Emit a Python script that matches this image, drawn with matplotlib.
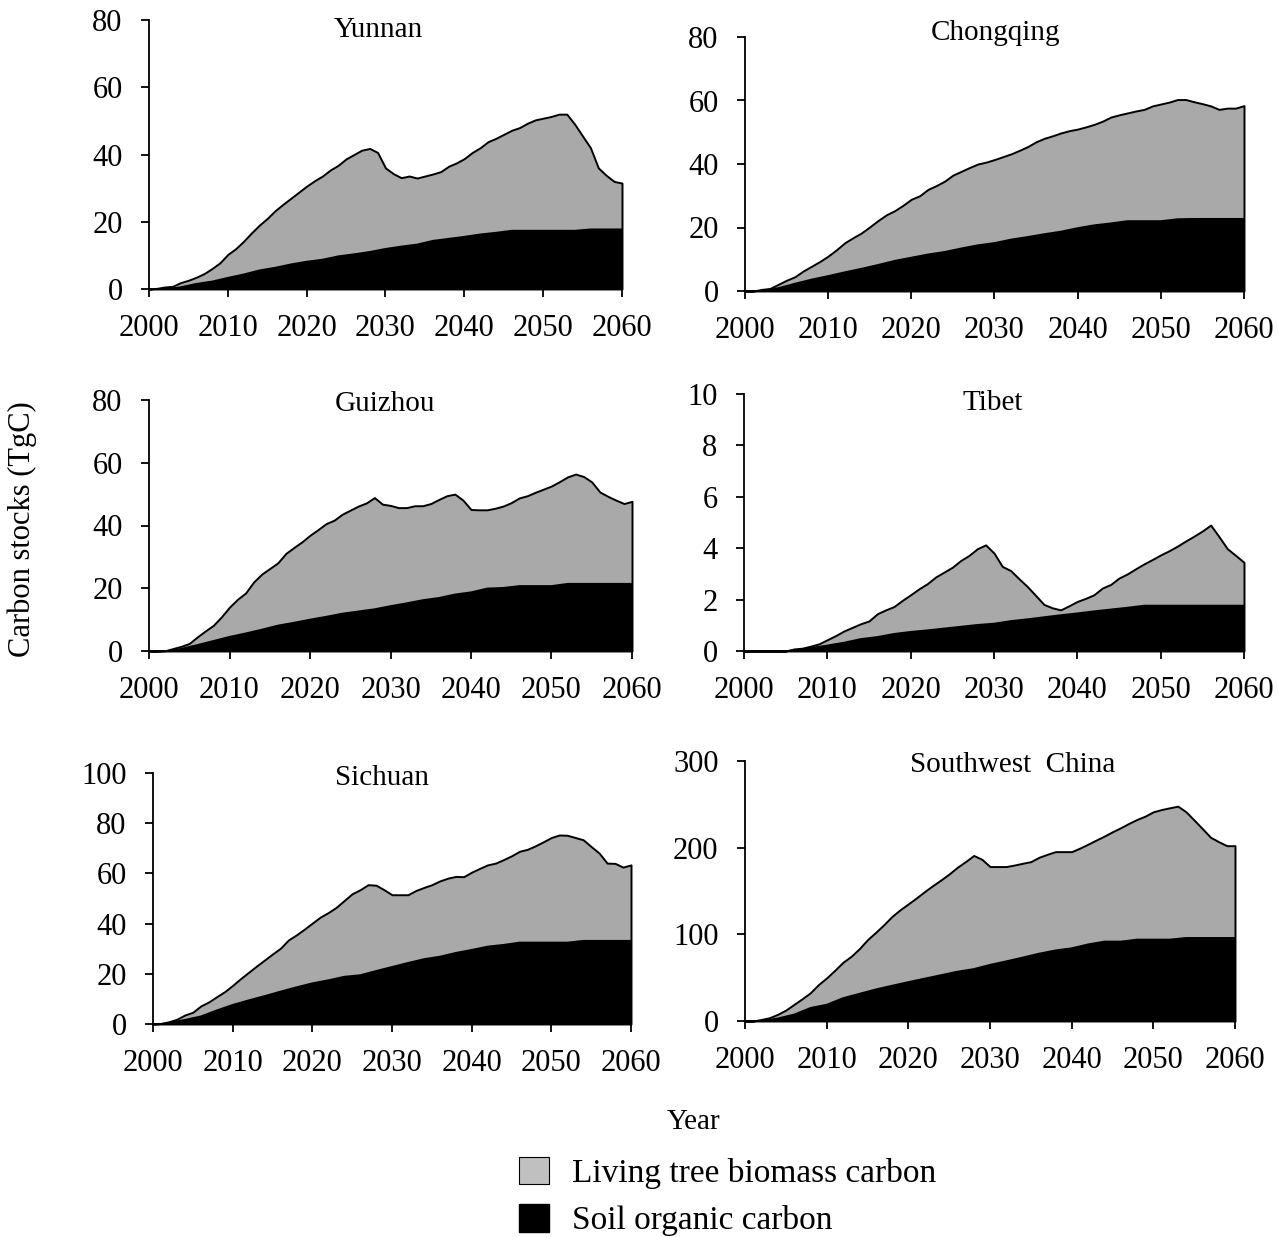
import numpy as np
import matplotlib.pyplot as plt
from matplotlib.patches import Patch

plt.rcParams['font.family'] = ['Liberation Serif', 'DejaVu Serif']

# years of the simulation
years = np.arange(2000, 2061)
soil_years = np.arange(2000, 2061, 2)

# total carbon stock (biomass + soil), TgC, one value per year
yunnan_total = [0, 0.2, 0.6, 0.8, 1.9, 2.6, 3.5, 4.6, 6.1, 7.8,
                10.3, 12.0, 14.2, 16.7, 19.0, 21.0, 23.3, 25.2, 27.0, 28.8,
                30.6, 32.2, 33.6, 35.4, 36.8, 38.7, 40.0, 41.3, 41.8, 40.6,
                36.0, 34.3, 33.1, 33.6, 33.0, 33.6, 34.2, 34.9, 36.5, 37.5,
                38.8, 40.6, 42.0, 43.8, 44.8, 46.0, 47.2, 48.0, 49.3, 50.3,
                50.8, 51.3, 52.0, 52.0, 49.0, 45.5, 42.0, 36.0, 33.8, 32.0,
                31.5]
chongqing_total = [0, 0, 0.5, 0.8, 2.1, 3.4, 4.5, 6.3, 7.8, 9.3,
                   11.0, 13.0, 15.2, 16.8, 18.3, 20.2, 22.2, 24.0, 25.3, 27.0,
                   28.9, 30.0, 32.0, 33.2, 34.6, 36.5, 37.7, 38.9, 40.0, 40.6,
                   41.4, 42.3, 43.2, 44.3, 45.5, 47.0, 48.1, 48.9, 49.8, 50.5,
                   51.0, 51.7, 52.5, 53.5, 54.8, 55.5, 56.1, 56.7, 57.2, 58.3,
                   58.9, 59.5, 60.3, 60.3, 59.6, 59.0, 58.3, 57.2, 57.6, 57.6,
                   58.4]
guizhou_total = [0, 0, 0.1, 0.8, 1.5, 2.4, 4.5, 6.4, 8.2, 10.9,
                 14.0, 16.5, 18.5, 22.0, 24.5, 26.3, 28.1, 31.1, 33.0, 34.8,
                 36.9, 38.7, 40.6, 41.7, 43.6, 44.9, 46.2, 47.2, 48.9, 46.8,
                 46.4, 45.7, 45.7, 46.3, 46.3, 47.0, 48.3, 49.5, 50.0, 48.1,
                 45.1, 45.0, 45.0, 45.5, 46.2, 47.3, 48.8, 49.5, 50.6, 51.6,
                 52.6, 54.0, 55.5, 56.4, 55.6, 53.9, 50.7, 49.3, 48.1, 47.0,
                 47.7]
tibet_total = [0, 0, 0, 0, 0, 0, 0.08, 0.11, 0.19, 0.28,
               0.44, 0.6, 0.78, 0.92, 1.06, 1.17, 1.45, 1.6, 1.73, 1.97,
               2.19, 2.42, 2.62, 2.88, 3.07, 3.26, 3.52, 3.72, 3.98, 4.13,
               3.81, 3.29, 3.13, 2.81, 2.51, 2.16, 1.81, 1.68, 1.6, 1.76,
               1.93, 2.05, 2.19, 2.45, 2.59, 2.84, 3.0, 3.2, 3.39, 3.56,
               3.74, 3.9, 4.08, 4.28, 4.47, 4.67, 4.9, 4.45, 3.98, 3.72,
               3.45]
sichuan_total = [0, 0.2, 0.9, 1.9, 3.6, 4.7, 7.2, 8.8, 10.9, 12.9,
                 15.4, 18.1, 20.6, 23.1, 25.5, 27.9, 30.2, 33.5, 35.5, 37.8,
                 40.2, 42.6, 44.4, 46.5, 49.2, 51.9, 53.5, 55.5, 55.3, 53.5,
                 51.5, 51.5, 51.5, 53.2, 54.4, 55.5, 57.0, 58.1, 58.8, 58.7,
                 60.5, 62.0, 63.4, 64.1, 65.5, 67.0, 68.8, 69.6, 71.0, 72.6,
                 74.3, 75.3, 75.2, 74.3, 73.4, 70.7, 68.1, 64.1, 64.0, 62.5,
                 63.4]
southwest_total = [0, 0, 1.8, 3.8, 7.7, 12.6, 19.2, 25.7, 32.6, 42.1,
                   49.8, 58.6, 67.8, 74.7, 83.5, 93.9, 102.3, 111.1, 120.7, 128.4,
                   135.2, 142.1, 149.4, 156.3, 162.8, 169.7, 177.4, 183.9, 191.0, 186.6,
                   178.2, 178.2, 178.2, 180.0, 182.0, 183.9, 188.9, 192.3, 195.4, 195.4,
                   195.4, 199.5, 204.0, 208.8, 213.4, 218.4, 223.0, 228.0, 232.6, 236.4,
                   241.4, 244.0, 246.0, 247.9, 241.4, 231.8, 222.0, 212.0, 206.9, 202.3,
                   202.3]

# soil organic carbon, TgC, every second year
yunnan_soil = [0, 0.2, 0.8, 1.8, 2.5, 3.6, 4.6, 5.8, 6.6, 7.6, 8.4, 9.0, 10.0, 10.6, 11.3,
               12.2, 12.9, 13.5, 14.6, 15.2, 15.8, 16.5, 17.0, 17.6, 17.6, 17.6, 17.6,
               17.6, 18.0, 18.0, 18.0]
chongqing_soil = [0, 0.3, 1.2, 2.6, 3.9, 5.0, 6.2, 7.3, 8.5, 9.8, 10.8, 11.8, 12.6, 13.7,
                  14.7, 15.4, 16.5, 17.3, 18.2, 19.0, 20.1, 21.0, 21.6, 22.3, 22.3, 22.3,
                  22.9, 23.0, 23.0, 23.0, 23.0]
guizhou_soil = [0, 0, 1.0, 2.2, 3.5, 4.8, 5.9, 7.1, 8.4, 9.3, 10.3, 11.2, 12.2, 12.9, 13.6,
                14.6, 15.5, 16.5, 17.2, 18.3, 19.0, 20.2, 20.4, 21.0, 21.0, 21.0, 21.7,
                21.7, 21.7, 21.7, 21.7]
tibet_soil = [0, 0, 0, 0.06, 0.15, 0.25, 0.36, 0.5, 0.58, 0.7, 0.78, 0.84, 0.91, 0.98,
              1.05, 1.1, 1.2, 1.27, 1.35, 1.43, 1.5, 1.58, 1.65, 1.72, 1.8, 1.8, 1.8,
              1.8, 1.8, 1.8, 1.8]
sichuan_soil = [0, 0.8, 2.0, 3.4, 5.8, 8.0, 9.8, 11.5, 13.3, 15.0, 16.6, 17.8, 19.2, 19.8,
                21.5, 23.1, 24.7, 26.2, 27.2, 28.7, 29.9, 31.2, 31.9, 32.8, 32.8, 32.8,
                32.8, 33.5, 33.5, 33.5, 33.5]
southwest_soil = [0, 0.8, 4.0, 8.5, 16.1, 19.9, 27.5, 32.5, 37.5, 41.8, 46.0, 50.0, 54.0,
                  58.0, 61.0, 65.9, 70.0, 74.3, 78.8, 82.5, 85.0, 89.5, 92.7, 92.7, 95.0,
                  95.0, 95.0, 96.9, 96.9, 96.9, 96.9]

titles = ['Yunnan', 'Chongqing', 'Guizhou', 'Tibet', 'Sichuan', 'Southwest  China']
totals = [yunnan_total, chongqing_total, guizhou_total, tibet_total, sichuan_total, southwest_total]
soils = [yunnan_soil, chongqing_soil, guizhou_soil, tibet_soil, sichuan_soil, southwest_soil]
ymax = [80, 80, 80, 10, 100, 300]
ystep = [20, 20, 20, 2, 20, 100]

W, H = 1278, 1237
# panel boxes in pixels: left, top, right, bottom
boxes = [(149, 20, 622, 289), (745, 37, 1244, 291),
         (149, 400, 632, 651), (744, 394, 1244, 651),
         (153, 773, 631, 1024), (745, 761, 1235, 1021)]
# title centres in pixels
title_pos = [(378, 30), (995, 33), (385, 404), (993, 403), (382, 778), (1013, 765)]

grey = '#a9a9a9'

fig = plt.figure(figsize=(W / 100, H / 100), dpi=100)

for i in range(6):
    l, t, r, b = boxes[i]
    ax = fig.add_axes([l / W, 1 - b / H, (r - l) / W, (b - t) / H])
    ax.fill_between(years, 0, totals[i], facecolor=grey, edgecolor='black',
                    linewidth=1.4, clip_on=False, zorder=2)
    ax.fill_between(soil_years, 0, soils[i], facecolor='black', edgecolor='none', zorder=3)
    ax.set_xlim(2000, 2060)
    ax.set_ylim(0, ymax[i])
    ax.set_xticks(range(2000, 2061, 10))
    ax.set_yticks(np.arange(0, ymax[i] + 0.1, ystep[i]))
    ax.spines['top'].set_visible(False)
    ax.spines['right'].set_visible(False)
    for s in ['left', 'bottom']:
        ax.spines[s].set_linewidth(1.3)
        ax.spines[s].set_zorder(4)
    ax.tick_params(axis='both', direction='out', length=6, width=1.3, labelsize=22)
    ax.tick_params(axis='y', pad=13)
    ax.tick_params(axis='x', pad=12)
    tx, ty = title_pos[i]
    fig.text(tx / W, 1 - ty / H, titles[i], ha='center', va='center', fontsize=21)

fig.text(22 / W, 1 - 529 / H, 'Carbon stocks (TgC)', rotation=90, ha='center', va='center', fontsize=22)
fig.text(694 / W, 1 - 1122 / H, 'Year', ha='center', va='center', fontsize=21)

handles = [Patch(facecolor='#c0c0c0', edgecolor='black', linewidth=0.8),
           Patch(facecolor='black', edgecolor='black')]
fig.legend(handles, ['Living tree biomass carbon', 'Soil organic carbon'],
           loc='upper left', bbox_to_anchor=(502 / W, 1 - 1140 / H), frameon=False,
           fontsize=24, handlelength=0.9, handleheight=0.9, handletextpad=0.7,
           labelspacing=0.45, borderpad=0)

fig.savefig('out.png', dpi=100)
